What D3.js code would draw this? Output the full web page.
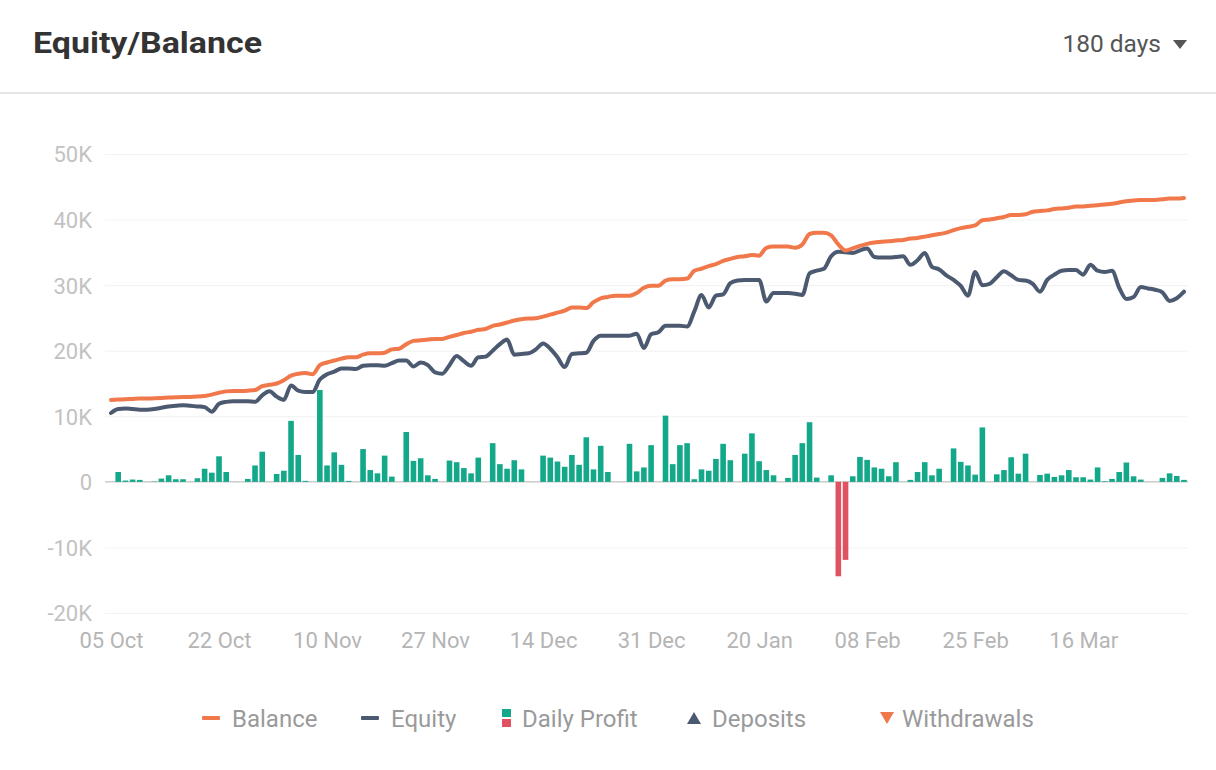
<!DOCTYPE html>
<html><head><meta charset="utf-8">
<script src="https://cdn.jsdelivr.net/npm/d3@7"></script>
<style>
html,body{margin:0;padding:0;background:#fff;}
svg text{font-family:Roboto,"Liberation Sans",Arial,sans-serif;}
</style></head>
<body><svg id="chart" width="1216" height="770"></svg>
<script>
// ---- data (values in K) ----
const tickLabels = ["05 Oct","22 Oct","10 Nov","27 Nov","14 Dec","31 Dec","20 Jan","08 Feb","25 Feb","16 Mar"];
const tickEvery = 15;
const yTicks = [-20,-10,0,10,20,30,40,50];
const balance = [12.5,12.55,12.6,12.65,12.7,12.7,12.75,12.8,12.85,12.9,12.95,12.95,13.0,13.1,13.3,13.6,13.8,13.85,13.85,13.9,
14.0,14.6,14.8,15.0,15.5,16.2,16.5,16.6,16.4,17.8,18.2,18.5,18.8,19.0,19.0,19.4,19.6,19.6,19.7,20.2,
20.3,21.0,21.5,21.6,21.7,21.8,21.8,22.1,22.4,22.7,22.9,23.2,23.3,23.8,24.0,24.3,24.6,24.8,24.9,24.95,
25.2,25.5,25.8,26.1,26.6,26.6,26.5,27.4,28.0,28.2,28.4,28.4,28.4,28.8,29.6,29.9,29.9,30.7,30.9,30.9,
31.0,32.2,32.5,32.9,33.2,33.7,34.0,34.3,34.4,34.6,34.5,35.7,35.9,35.9,35.9,35.7,36.2,37.8,38.0,38.0,
37.6,36.2,35.3,35.6,36.0,36.3,36.5,36.6,36.7,36.8,36.9,37.1,37.2,37.4,37.6,37.8,38.0,38.4,38.7,38.9,
39.1,39.9,40.0,40.2,40.4,40.7,40.7,40.8,41.2,41.3,41.4,41.6,41.7,41.8,42.0,42.0,42.1,42.2,42.3,42.4,
42.6,42.8,42.9,43.0,43.0,43.0,43.1,43.2,43.2,43.3];
const equity = [10.5,11.1,11.2,11.1,11.0,11.0,11.1,11.3,11.5,11.6,11.7,11.6,11.5,11.4,10.7,11.9,12.2,12.3,12.3,12.3,
12.2,13.2,13.8,13.0,12.5,14.7,13.9,13.7,13.7,15.6,16.4,16.8,17.3,17.3,17.2,17.7,17.8,17.8,17.7,18.1,
18.5,18.5,17.6,18.2,17.8,16.7,16.5,17.8,19.2,18.4,17.7,19.0,19.1,20.0,21.0,21.7,19.4,19.5,19.6,20.2,
21.1,20.3,19.0,17.5,19.5,19.6,19.7,21.5,22.3,22.3,22.3,22.3,22.3,22.6,20.4,22.5,22.8,23.8,23.8,23.8,
23.7,26.0,28.5,26.6,28.4,28.6,30.3,30.7,30.8,30.8,30.8,27.5,28.8,28.8,28.8,28.7,28.5,31.8,32.2,32.5,
34.4,35.1,35.0,34.9,35.3,35.6,34.3,34.2,34.2,34.3,34.4,33.1,33.8,34.9,32.8,32.4,31.5,30.8,29.9,28.4,
32.0,30.0,30.2,31.2,32.1,31.5,30.8,30.7,30.2,29.0,30.8,31.6,32.2,32.3,32.3,31.6,33.1,32.2,32.0,32.2,
29.6,27.9,28.2,29.7,29.5,29.3,28.9,27.6,28.0,29.0];
const dailyProfit = [0,1.5,0.2,0.35,0.3,0,0.05,0.5,1.0,0.4,0.4,0,0.55,2.0,1.4,3.9,1.5,0,0,0.45,
2.5,4.6,0,1.2,1.7,9.3,4.1,0.15,0,14.0,2.5,4.5,2.6,0.15,0,5.0,1.8,1.3,4.0,0.8,
0,7.6,3.2,3.6,1.0,0.45,0,3.25,3.0,2.1,1.3,3.7,0,5.9,2.7,2.0,3.3,1.9,0,0,
4.0,3.7,3.1,2.3,4.1,2.6,6.8,1.9,5.5,1.5,0,0,5.8,1.6,2.2,5.6,0,10.1,2.7,5.6,
5.9,0.4,1.9,1.7,3.5,5.8,3.3,0,4.3,7.4,3.15,1.8,1.0,0,0.6,4.1,5.9,9.1,0.65,0,
1.0,-14.4,-11.9,0.85,3.8,3.35,2.2,2.0,0.85,3.0,0,0.3,1.5,3.0,1.0,2.0,0,5.1,3.05,2.5,
1.1,8.3,0,1.15,1.8,3.75,1.25,4.3,0,1.05,1.25,0.75,1.0,1.8,0.7,0.7,0.35,2.2,0.1,0.45,
1.5,2.95,0.85,0.35,0,0,0.6,1.3,0.9,0.3];
const legendItems = [
  {name:"Balance", type:"line", color:"#F0784A"},
  {name:"Equity", type:"line", color:"#4B5A70"},
  {name:"Daily Profit", type:"bar", color:"#14A88A", color2:"#E0525F"},
  {name:"Deposits", type:"up", color:"#4B5A70"},
  {name:"Withdrawals", type:"down", color:"#F0784A"}
];

// ---- drawing ----
const svg = d3.select("#chart");
const C = {bal:"#F0784A", eq:"#4B5A70", pos:"#14A88A", neg:"#E0525F"};

svg.append("text").attr("x",33).attr("y",53).attr("font-size",29).attr("font-weight",700)
  .attr("font-family","'Open Sans',sans-serif")
  .attr("textLength",229).attr("lengthAdjust","spacingAndGlyphs")
  .attr("fill","#333").text("Equity/Balance");
svg.append("text").attr("x",1161).attr("y",52).attr("font-size",24.5).attr("text-anchor","end")
  .attr("fill","#555").text("180 days");
svg.append("path").attr("d","M1173,40 L1187,40 L1180,49 Z").attr("fill","#555");
svg.append("rect").attr("x",0).attr("y",92).attr("width",1216).attr("height",2).attr("fill","#e6e6e6");

const idx = d3.range(balance.length);
const x = d3.scalePoint().domain(idx).range([111,1184]);
const y = d3.scaleLinear().domain([-20,50]).range([613,154]);
const gridL = 105, gridR = 1188;

// grid
const yAxis = d3.axisLeft(y).tickValues(yTicks).tickSize(-(gridR-gridL)).tickPadding(13)
  .tickFormat(d => d===0 ? "0" : d+"K");
const gy = svg.append("g").attr("transform",`translate(${gridL},0)`).call(yAxis);
gy.select(".domain").remove();
gy.selectAll(".tick line").attr("stroke","#f2f2f2").attr("stroke-width",1);
gy.selectAll(".tick text").attr("font-size",22).attr("fill","#c2c2c2").attr("dy","0.36em");

// zero line
svg.append("line").attr("x1",gridL).attr("x2",gridR).attr("y1",y(0)).attr("y2",y(0))
  .attr("stroke","#cfcfcf").attr("stroke-width",1.5);

// x axis
const xAxis = d3.axisBottom(x).tickValues(idx.filter(i => i % tickEvery === 0))
  .tickSize(0).tickPadding(0).tickFormat(i => tickLabels[i/tickEvery]);
const gx = svg.append("g").attr("transform","translate(0,630)").call(xAxis);
gx.select(".domain").remove();
gx.selectAll(".tick text").attr("font-size",22).attr("fill","#b5b5b5").attr("dy","0.82em");

// bars
const bw = 5.6;
svg.append("g").selectAll("rect").data(idx.filter(i => dailyProfit[i] !== 0)).join("rect")
  .attr("x", i => x(i)-bw/2)
  .attr("y", i => dailyProfit[i] >= 0 ? y(dailyProfit[i]) : y(0))
  .attr("width", bw)
  .attr("height", i => Math.abs(y(dailyProfit[i]) - y(0)))
  .attr("fill", i => dailyProfit[i] >= 0 ? C.pos : C.neg);

// lines
const lineGen = arr => d3.line().x(i => x(i)).y(i => y(arr[i])).curve(d3.curveMonotoneX)(idx);
svg.append("path").attr("d", lineGen(equity)).attr("fill","none").attr("stroke",C.eq)
  .attr("stroke-width",4).attr("stroke-linejoin","round").attr("stroke-linecap","round");
svg.append("path").attr("d", lineGen(balance)).attr("fill","none").attr("stroke",C.bal)
  .attr("stroke-width",4).attr("stroke-linejoin","round").attr("stroke-linecap","round");

// legend
const legX = [202, 361, 502, 687, 880];
const lg = svg.append("g");
legendItems.forEach((it, k) => {
  const g = lg.append("g").attr("transform",`translate(${legX[k]},718)`);
  let tx = 30;
  if (it.type === "line") {
    g.append("rect").attr("x",0).attr("y",-2).attr("width",18).attr("height",4).attr("rx",1).attr("fill",it.color);
  } else if (it.type === "bar") {
    g.append("rect").attr("x",0).attr("y",-9).attr("width",9).attr("height",8).attr("fill",it.color);
    g.append("rect").attr("x",0).attr("y",1).attr("width",9).attr("height",8).attr("fill",it.color2);
    tx = 20;
  } else if (it.type === "up") {
    g.append("path").attr("d","M0,6 L14,6 L7,-6 Z").attr("fill",it.color);
    tx = 25;
  } else {
    g.append("path").attr("d","M0,-6 L14,-6 L7,6 Z").attr("fill",it.color);
    tx = 22;
  }
  g.append("text").attr("x",tx).attr("y",8.5).attr("font-size",24).attr("fill","#9a9a9a").text(it.name);
});
</script>
</body></html>
